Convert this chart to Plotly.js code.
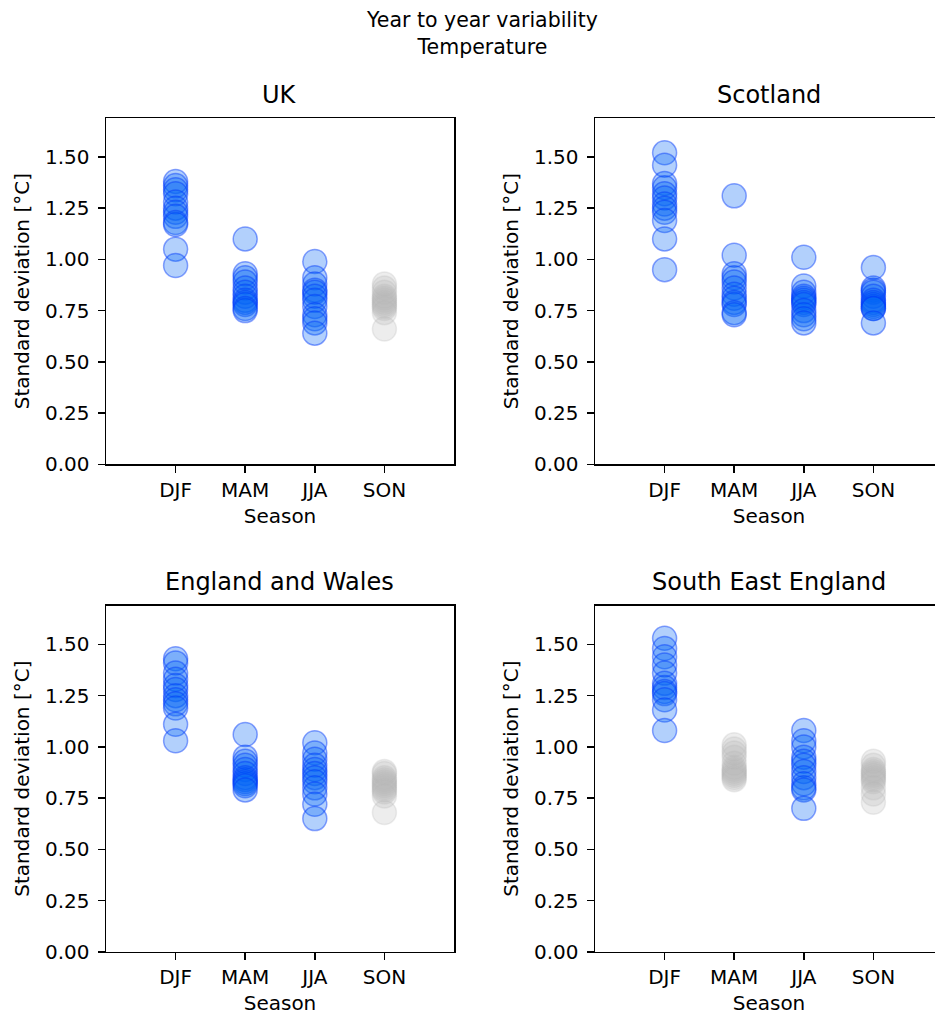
<!DOCTYPE html>
<html>
<head>
<meta charset="utf-8">
<script src="https://cdn.plot.ly/plotly-3.0.1.min.js"></script>
<style>
  html, body { margin: 0; padding: 0; overflow: hidden; background: #fff; }
  #chart { width: 960px; height: 1015px; }
</style>
</head>
<body>
<div id="chart"></div>
<script>
// ---- Data ----
const seasons = ['DJF', 'MAM', 'JJA', 'SON'];
const regions = ['UK', 'Scotland', 'England and Wales', 'South East England'];

const ukDJF = [1.38, 1.36, 1.34, 1.32, 1.28, 1.25, 1.23, 1.21, 1.18, 1.17, 1.05, 0.97];
const ukMAM = [1.10, 0.93, 0.91, 0.89, 0.86, 0.84, 0.82, 0.80, 0.79, 0.78, 0.76, 0.75];
const ukJJA = [0.99, 0.91, 0.88, 0.85, 0.84, 0.82, 0.80, 0.77, 0.73, 0.71, 0.69, 0.64];
const ukSON = [0.88, 0.86, 0.84, 0.82, 0.81, 0.80, 0.79, 0.78, 0.77, 0.76, 0.74, 0.66];

const scDJF = [1.52, 1.46, 1.37, 1.35, 1.32, 1.30, 1.27, 1.25, 1.23, 1.19, 1.10, 0.95];
const scMAM = [1.31, 1.02, 0.93, 0.91, 0.89, 0.86, 0.83, 0.81, 0.79, 0.78, 0.74, 0.73];
const scJJA = [1.01, 0.87, 0.84, 0.82, 0.81, 0.80, 0.79, 0.78, 0.75, 0.73, 0.71, 0.69];
const scSON = [0.96, 0.86, 0.85, 0.84, 0.82, 0.80, 0.79, 0.78, 0.77, 0.76, 0.76, 0.69];

const ewDJF = [1.43, 1.41, 1.36, 1.33, 1.30, 1.28, 1.25, 1.23, 1.21, 1.19, 1.11, 1.03];
const ewMAM = [1.06, 0.95, 0.93, 0.91, 0.89, 0.87, 0.85, 0.84, 0.83, 0.82, 0.81, 0.79];
const ewJJA = [1.02, 0.97, 0.94, 0.91, 0.89, 0.87, 0.85, 0.83, 0.80, 0.77, 0.72, 0.65];
const ewSON = [0.88, 0.87, 0.85, 0.84, 0.83, 0.82, 0.81, 0.80, 0.79, 0.78, 0.76, 0.68];

const seDJF = [1.53, 1.48, 1.44, 1.40, 1.36, 1.31, 1.29, 1.27, 1.26, 1.23, 1.18, 1.08];
const seMAM = [1.01, 0.99, 0.97, 0.95, 0.92, 0.90, 0.89, 0.88, 0.87, 0.86, 0.85, 0.84];
const seJJA = [1.08, 1.03, 1.00, 0.95, 0.93, 0.91, 0.88, 0.85, 0.82, 0.80, 0.79, 0.70];
const seSON = [0.93, 0.91, 0.89, 0.88, 0.87, 0.86, 0.85, 0.84, 0.83, 0.80, 0.77, 0.73];

// significant (blue) vs not significant (grey), per season
const ukSignificant = [true, true, true, false];
const scSignificant = [true, true, true, true];
const ewSignificant = [true, true, true, false];
const seSignificant = [true, false, true, false];

const yTicks = [0, 0.25, 0.5, 0.75, 1.0, 1.25, 1.5];

// ---- Build ----
const regionData = [
  [ukDJF, ukMAM, ukJJA, ukSON],
  [scDJF, scMAM, scJJA, scSON],
  [ewDJF, ewMAM, ewJJA, ewSON],
  [seDJF, seMAM, seJJA, seSON]
];
const regionSig = [ukSignificant, scSignificant, ewSignificant, seSignificant];

const blueMarker = { size: 24, color: 'rgba(0,100,245,0.30)', line: { color: 'rgba(0,55,250,0.45)', width: 1.5 } };
const greyMarker = { size: 24, color: 'rgba(185,185,185,0.25)', line: { color: 'rgba(185,185,185,0.25)', width: 1.5 } };

const traces = [];
regionData.forEach((seasonVals, r) => {
  const ax = r === 0 ? '' : String(r + 1);
  seasonVals.forEach((vals, s) => {
    traces.push({
      type: 'scatter', mode: 'markers',
      x: vals.map(() => s), y: vals,
      xaxis: 'x' + ax, yaxis: 'y' + ax,
      marker: regionSig[r][s] ? blueMarker : greyMarker,
      hoverinfo: 'x+y', showlegend: false
    });
  });
});

const W = 960, H = 1015;
const font = { family: 'DejaVu Sans, sans-serif', size: 20, color: '#000' };
const xdomL = [106 / W, 454 / W], xdomR = [595 / W, 943 / W];
const ydomT = [1 - 464.3 / H, 1 - 118 / H], ydomB = [1 - 951.8 / H, 1 - 605.5 / H];

function xAxis(dom, anchor) {
  return {
    domain: dom, anchor: anchor, range: [-1, 4],
    tickvals: seasons.map((_, i) => i), ticktext: seasons,
    showline: true, mirror: true, linecolor: '#000', linewidth: 1.5,
    ticks: 'outside', ticklen: 7, tickwidth: 1.5, tickcolor: '#000',
    showgrid: false, zeroline: false, tickfont: font,
    title: { text: 'Season', font: font, standoff: 8 }, automargin: false
  };
}
function yAxis(dom, anchor) {
  return {
    domain: dom, anchor: anchor, range: [0, 1.69],
    tickvals: yTicks, ticktext: yTicks.map(v => v.toFixed(2)),
    showline: true, mirror: true, linecolor: '#000', linewidth: 1.5,
    ticks: 'outside', ticklen: 7, tickwidth: 1.5, tickcolor: '#000',
    showgrid: false, zeroline: false, tickfont: font, ticklabelstandoff: 4,
    title: { text: 'Standard deviation [°C]', font: font, standoff: 10 }, automargin: false
  };
}

const titleFont = { family: 'DejaVu Sans, sans-serif', size: 24, color: '#000' };
const annotations = [
  { text: 'Year to year variability<br>Temperature', x: 482 / W, y: 1 - 33 / H, xref: 'paper', yref: 'paper',
    xanchor: 'center', yanchor: 'middle', showarrow: false, font: { family: 'DejaVu Sans, sans-serif', size: 20.5, color: '#000' } },
  { text: regions[0], x: (xdomL[0] + xdomL[1]) / 2, y: 1 - 95 / H, xref: 'paper', yref: 'paper', xanchor: 'center', yanchor: 'middle', showarrow: false, font: titleFont },
  { text: regions[1], x: (xdomR[0] + xdomR[1]) / 2, y: 1 - 95 / H, xref: 'paper', yref: 'paper', xanchor: 'center', yanchor: 'middle', showarrow: false, font: titleFont },
  { text: regions[2], x: (xdomL[0] + xdomL[1]) / 2, y: 1 - 582 / H, xref: 'paper', yref: 'paper', xanchor: 'center', yanchor: 'middle', showarrow: false, font: titleFont },
  { text: regions[3], x: (xdomR[0] + xdomR[1]) / 2, y: 1 - 582 / H, xref: 'paper', yref: 'paper', xanchor: 'center', yanchor: 'middle', showarrow: false, font: titleFont }
];

const layout = {
  width: W, height: H,
  margin: { l: 0, r: 0, t: 0, b: 0 },
  paper_bgcolor: '#fff', plot_bgcolor: '#fff',
  font: font, showlegend: false,
  xaxis: xAxis(xdomL, 'y'),  yaxis: yAxis(ydomT, 'x'),
  xaxis2: xAxis(xdomR, 'y2'), yaxis2: yAxis(ydomT, 'x2'),
  xaxis3: xAxis(xdomL, 'y3'), yaxis3: yAxis(ydomB, 'x3'),
  xaxis4: xAxis(xdomR, 'y4'), yaxis4: yAxis(ydomB, 'x4'),
  annotations: annotations
};

Plotly.newPlot('chart', traces, layout, { displayModeBar: false, staticPlot: true });
</script>
</body>
</html>
